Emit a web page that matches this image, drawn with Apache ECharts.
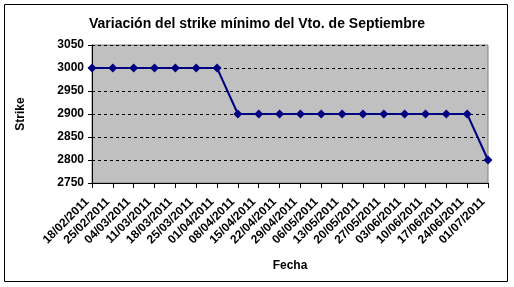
<!DOCTYPE html>
<html><head><meta charset="utf-8">
<script src="https://cdn.jsdelivr.net/npm/echarts@6/dist/echarts.min.js"></script>
<style>html,body{margin:0;padding:0;background:#fff}#c{width:514px;height:287px}</style>
</head><body><div id="c"></div>
<script>
const categories = ['18/02/2011','25/02/2011','04/03/2011','11/03/2011','18/03/2011','25/03/2011','01/04/2011','08/04/2011','15/04/2011','22/04/2011','29/04/2011','06/05/2011','13/05/2011','20/05/2011','27/05/2011','03/06/2011','10/06/2011','17/06/2011','24/06/2011','01/07/2011'];
const strikeValues = [3000,3000,3000,3000,3000,3000,3000,2900,2900,2900,2900,2900,2900,2900,2900,2900,2900,2900,2900,2800];
const titleText = 'Variación del strike mínimo del Vto. de Septiembre';
const yAxisName = 'Strike';
const xAxisName = 'Fecha';

const chart = echarts.init(document.getElementById('c'), null, {renderer:'canvas'});
const font = 'Arial, "Liberation Sans", sans-serif';
chart.setOption({
  animation:false,
  backgroundColor:'#ffffff',
  graphic:[
    {type:'rect', shape:{x:4.5,y:4.5,width:503,height:277}, style:{fill:'none',stroke:'#000',lineWidth:1}, z:-1}
  ],
  title:{text:titleText, left:'center', top:12, textStyle:{fontFamily:font, fontWeight:'bold', fontSize:14, color:'#000'}},
  grid:{left:92, right:26, top:45, bottom:104, containLabel:false, outerBoundsMode:'none', show:true, backgroundColor:'#c0c0c0', borderColor:'#808080', borderWidth:1},
  xAxis:{
    type:'category', data:categories, boundaryGap:false,
    name:xAxisName, nameLocation:'middle', nameGap:77,
    nameTextStyle:{fontFamily:font, fontWeight:'bold', fontSize:12, color:'#000'},
    axisLine:{lineStyle:{color:'#000', width:1}},
    axisTick:{show:true, length:5, lineStyle:{color:'#000'}, alignWithLabel:true},
    axisLabel:{rotate:45, interval:0, margin:12, padding:[0,7,0,0], fontFamily:font, fontWeight:'bold', fontSize:12, color:'#000'},
    splitLine:{show:false}
  },
  yAxis:{
    type:'value', min:2750, max:3050, interval:50,
    name:yAxisName, nameLocation:'middle', nameGap:65, nameRotate:90,
    nameTextStyle:{fontFamily:font, fontWeight:'bold', fontSize:12, color:'#000'},
    axisLine:{show:true, lineStyle:{color:'#000', width:1}},
    axisTick:{show:true, length:4, lineStyle:{color:'#000'}},
    axisLabel:{margin:8, fontFamily:font, fontWeight:'bold', fontSize:12, color:'#000', formatter:function(v){return String(v);}},
    splitLine:{show:true, lineStyle:{color:'#000', type:[3,3], width:1}}
  },
  series:[{
    type:'line', data:strikeValues,
    symbol:'diamond', symbolSize:9,
    lineStyle:{color:'#000080', width:2},
    itemStyle:{color:'#000080'},
    z:5
  }]
});
</script></body></html>
